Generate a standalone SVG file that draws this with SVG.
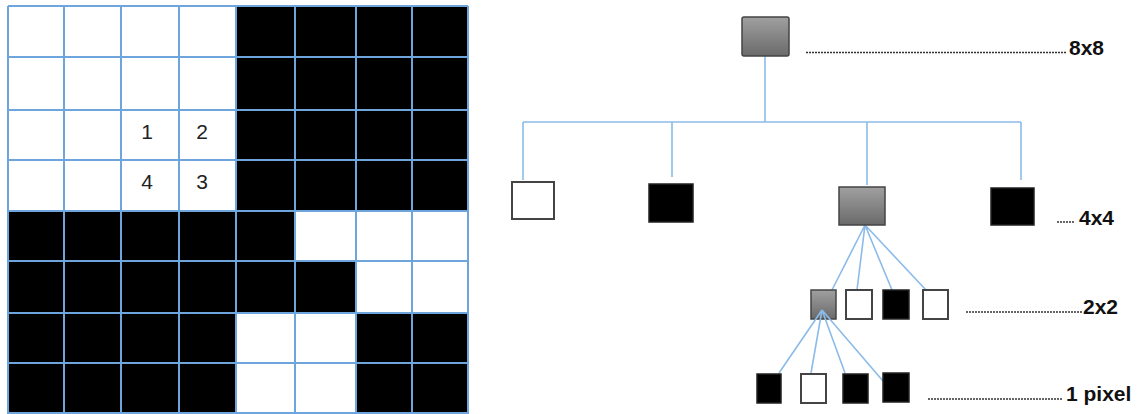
<svg xmlns="http://www.w3.org/2000/svg" width="1141" height="414" viewBox="0 0 1141 414">
<defs>
<linearGradient id="gray" x1="0" y1="0" x2="0" y2="1">
<stop offset="0" stop-color="#a0a0a0"/>
<stop offset="1" stop-color="#6a6a6a"/>
</linearGradient>
<style>
.b{fill:#000}
.w{fill:#fff}
.gl{stroke:#6fa5dd;stroke-width:2;fill:none}
.num{font-family:"Liberation Sans",Arial,sans-serif;font-size:21px;fill:#222;text-anchor:middle}
.lbl{font-family:"Liberation Sans",Arial,sans-serif;font-size:21px;font-weight:bold;fill:#111}
.dot{stroke:#333;stroke-width:1.5;stroke-dasharray:2 1;fill:none}
.con{stroke:#8cbbe9;stroke-width:1.6;fill:none}
.nb{fill:#000;stroke:#222;stroke-width:1.5}
.nw{fill:#fff;stroke:#444;stroke-width:2}
.ng{fill:url(#gray);stroke:#444;stroke-width:1.5}
</style>
</defs>
<rect width="1141" height="414" fill="#fff"/>
<g id="grid">
<rect class="b" x="236" y="6" width="232" height="205"/>
<rect class="b" x="8" y="211" width="228" height="203"/>
<rect class="b" x="236" y="211" width="59" height="102"/>
<rect class="b" x="295" y="261" width="61" height="52"/>
<rect class="b" x="356" y="313" width="112" height="101"/>
<path class="gl" d="M8,6V414M64,6V414M121,6V414M179,6V414M236,6V414M295,6V414M356,6V414M412,6V414M468,6V414"/>
<path class="gl" d="M8,6H468M8,57H468M8,110H468M8,160H468M8,211H468M8,261H468M8,313H468M8,363H468M8,413H468"/>
<text class="num" x="147" y="139">1</text>
<text class="num" x="202" y="139">2</text>
<text class="num" x="147" y="189">4</text>
<text class="num" x="202" y="189">3</text>
</g>
<g id="connectors">
<path class="con" d="M765,56V122M523,122H1021M523,122V180M672,122V177M867,122V185M1021,122V180"/>
<path class="con" d="M865,225L832,290M865,225L857,290M865,225L892,290M865,225L926,290"/>
</g>
<g id="root"><rect class="ng" x="742" y="17" width="47" height="39" rx="2"/></g>
<g id="n4-1"><rect class="nw" x="512" y="182" width="42" height="37"/></g>
<g id="n4-2"><rect class="nb" x="649" y="184" width="44" height="38"/></g>
<g id="n4-3"><rect class="ng" x="839" y="187" width="46" height="38"/></g>
<g id="n4-4"><rect class="nb" x="991" y="188" width="43" height="37"/></g>
<g id="n2-1"><rect class="ng" x="811" y="290" width="25" height="29"/></g>
<g id="n2-2"><rect class="nw" x="846" y="290" width="26" height="29"/></g>
<g id="n2-3"><rect class="nb" x="883" y="290" width="26" height="29"/></g>
<g id="n2-4"><rect class="nw" x="923" y="290" width="25" height="29"/></g>
<g id="connectors2">
<path class="con" d="M822,310L779,373M822,310L811,373M822,310L845,373M822,310L883,381"/>
</g>
<g id="n1-1"><rect class="nb" x="757" y="374" width="24" height="29"/></g>
<g id="n1-2"><rect class="nw" x="801" y="374" width="25" height="29"/></g>
<g id="n1-3"><rect class="nb" x="843" y="374" width="25" height="29"/></g>
<g id="n1-4"><rect class="nb" x="883" y="373" width="26" height="29"/></g>
<g id="labels">
<path class="dot" d="M806,52.5H1066"/>
<text class="lbl" x="1069" y="55">8x8</text>
<path class="dot" d="M1057,222H1075"/>
<text class="lbl" x="1079" y="225">4x4</text>
<path class="dot" d="M966,312H1082"/>
<text class="lbl" x="1083" y="314">2x2</text>
<path class="dot" d="M928,399H1063"/>
<text class="lbl" x="1066" y="401">1 pixel</text>
</g>
</svg>
